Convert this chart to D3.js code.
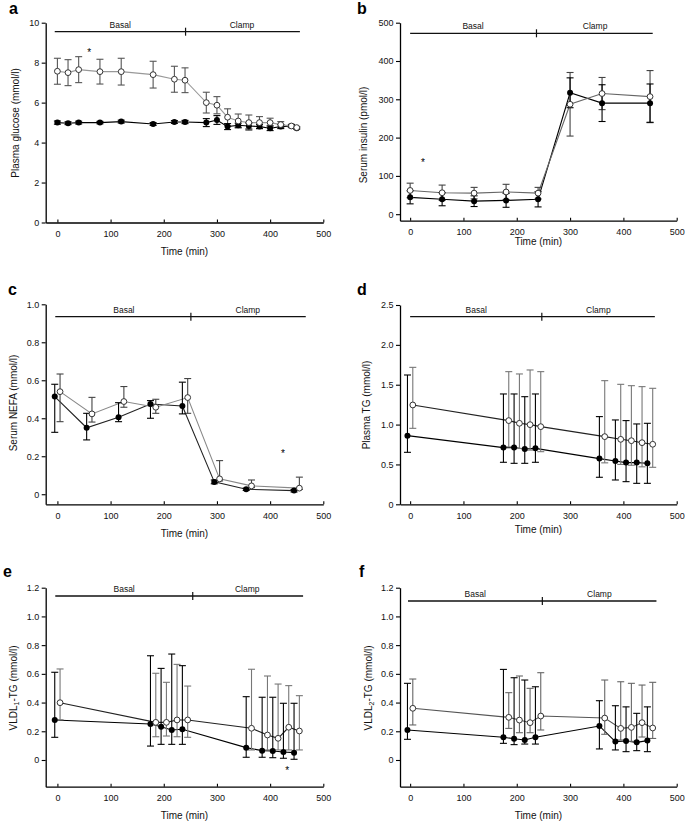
<!DOCTYPE html>
<html><head><meta charset="utf-8">
<script src="https://cdn.jsdelivr.net/npm/d3@7"></script>
<style>
body{margin:0;background:#fff}
svg{display:block}
text{font-family:"Liberation Sans",Arial,Helvetica,sans-serif;fill:#111}
</style>
</head><body>
<svg id="chart" width="685" height="821"></svg>
<script>
// ---------------- DATA ----------------
const xTicks = [0, 100, 200, 300, 400, 500];

// a: Plasma glucose (mmol/l)
const aTime = [0,20,40,80,120,180,220,240,280,300,320,340,360,380,400,420,440,450];
const aOpen = [7.57,7.5,7.65,7.55,7.55,7.4,7.17,7.12,6.0,5.87,5.27,5.08,5.0,5.0,5.0,4.9,4.83,4.75];
const aOpenErr = [0.65,0.65,0.65,0.62,0.67,0.67,0.65,0.62,0.52,0.43,0.42,0.35,0.38,0.3,0.22,0.15,0.07,0.05];
const aFilled = [5.0,4.97,5.0,5.0,5.05,4.93,5.03,5.03,5.0,5.13,4.8,4.87,4.83,4.8,4.72,4.8,4.83,4.72];
const aFilledErr = [0.08,0.07,0.07,0.06,0.07,0.07,0.07,0.08,0.2,0.22,0.15,0.1,0.15,0.1,0.12,0.1,0.08,0.05];
const aYTicks = [0,2,4,6,8,10];

// b: Serum insulin (pmol/l)
const bTime = [0,60,120,180,240,300,360,450];
const bOpen = [62,56,55,58,55,287,315,307];
const bOpenErr = [19,20,15,20,15,83,42,68];
const bFilled = [44,39,34,36,39,317,290,290];
const bFilledErr = [17,17,14,18,20,39,48,50];
const bYTicks = [0,100,200,300,400,500];

// c: Serum NEFA (mmol/l)
const cTimeFilled = [-5,55,115,175,235,295,355,445];
const cFilled = [0.514,0.35,0.405,0.475,0.465,0.065,0.026,0.019];
const cFilledLo = [0.326,0.286,0.382,0.40,0.423,0.055,0.02,0.012];
const cFilledHi = [0.579,0.426,0.482,0.493,0.59,0.075,0.032,0.025];
const cTimeOpen = [5,65,125,185,245,305,365,455];
const cOpen = [0.54,0.423,0.488,0.458,0.509,0.081,0.044,0.032];
const cOpenLo = [0.382,0.38,0.458,0.426,0.426,0.07,0.035,0.025];
const cOpenHi = [0.633,0.51,0.567,0.5,0.609,0.177,0.075,0.09];
const cYTicks = [0,0.2,0.4,0.6,0.8,1.0];

// d: Plasma TG (mmol/l)
const tgTimeFilled = [-5,175,195,215,235,355,385,405,425,445];
const tgTimeOpen = [5,185,205,225,245,365,395,415,435,455];
const dFilled = [0.861,0.711,0.711,0.694,0.702,0.573,0.543,0.523,0.523,0.514];
const dFilledLo = [0.652,0.527,0.514,0.514,0.527,0.339,0.305,0.284,0.263,0.263];
const dFilledHi = [1.622,1.384,1.384,1.35,1.384,1.1,1.058,1.05,1.008,1.016];
const dOpen = [1.246,1.05,1.016,0.999,0.974,0.849,0.815,0.798,0.773,0.753];
const dOpenLo = [0.953,0.72,0.7,0.68,0.66,0.52,0.5,0.49,0.47,0.464];
const dOpenHi = [1.718,1.664,1.635,1.685,1.664,1.551,1.505,1.488,1.476,1.455];
const dYTicks = [0,0.5,1.0,1.5,2.0,2.5];

// e: VLDL1-TG (mmol/l)
const eFilled = [0.279,0.251,0.232,0.209,0.214,0.086,0.065,0.063,0.056,0.051];
const eFilledLo = [0.158,0.097,0.109,0.109,0.109,0.019,0.019,0.016,0.012,0.005];
const eFilledHi = [0.611,0.726,0.638,0.738,0.657,0.441,0.437,0.437,0.395,0.395];
const eOpen = [0.399,0.262,0.262,0.279,0.279,0.221,0.174,0.151,0.228,0.202];
const eOpenLo = [0.28,0.162,0.167,0.162,0.158,0.07,0.07,0.07,0.07,0.07];
const eOpenHi = [0.634,0.604,0.541,0.666,0.515,0.632,0.585,0.529,0.518,0.448];
const efYTicks = [0,0.2,0.4,0.6,0.8,1.0,1.2];

// f: VLDL2-TG (mmol/l)
const fFilled = [0.209,0.158,0.148,0.139,0.158,0.237,0.128,0.132,0.123,0.135];
const fFilledLo = [0.144,0.116,0.107,0.111,0.111,0.077,0.07,0.058,0.065,0.058];
const fFilledHi = [0.534,0.631,0.573,0.557,0.51,0.413,0.378,0.37,0.325,0.37];
const fOpen = [0.36,0.297,0.278,0.26,0.306,0.292,0.22,0.227,0.26,0.223];
const fOpenLo = [0.244,0.22,0.19,0.19,0.209,0.179,0.139,0.13,0.16,0.15];
const fOpenHi = [0.564,0.469,0.585,0.499,0.608,0.557,0.545,0.534,0.522,0.541];

// ---------------- HELPERS ----------------
const sym = (t, v, e) => t.map((tt, i) => ({t: tt, v: v[i], lo: v[i] - e[i], hi: v[i] + e[i]}));
const asym = (t, v, lo, hi) => t.map((tt, i) => ({t: tt, v: v[i], lo: lo[i], hi: hi[i]}));
const fmt1 = d => d === 0 ? "0" : d3.format(".1f")(d);
const fmtInt = d => String(d);

const svg = d3.select("#chart");

function drawPanel(cfg) {
  const g = svg.append("g");
  const x = d3.scaleLinear().domain(cfg.xDomain).range(cfg.xRange);
  const y = d3.scaleLinear().domain(cfg.yDomain).range(cfg.yRange);

  // axes
  const ya = d3.axisLeft(y).tickValues(cfg.yTicks).tickFormat(cfg.yFmt)
    .tickSizeInner(4).tickSizeOuter(0).tickPadding(2.5);
  const yg = g.append("g").attr("transform", `translate(${cfg.xRange[0]},0)`).call(ya);
  const xa = d3.axisBottom(x).tickValues(xTicks).tickFormat(fmtInt)
    .tickSizeInner(-3).tickSizeOuter(0).tickPadding(8);
  const xg = g.append("g").attr("transform", `translate(0,${cfg.yRange[0]})`).call(xa);
  [yg, xg].forEach(a => {
    a.select(".domain").attr("stroke", "#000").attr("stroke-width", 1.3);
    a.selectAll(".tick line").attr("stroke", "#000").attr("stroke-width", 1.1);
    a.selectAll(".tick text").attr("font-size", 9).attr("fill", "#111")
      .attr("font-family", '"Liberation Sans",Arial,sans-serif');
  });

  // phase bar
  const p = cfg.phase;
  g.append("line").attr("x1", x(p.start)).attr("x2", x(p.end))
    .attr("y1", p.y).attr("y2", p.y).attr("stroke", "#111").attr("stroke-width", 1.3);
  g.append("line").attr("x1", x(p.mid)).attr("x2", x(p.mid))
    .attr("y1", p.y - 4).attr("y2", p.y + 4).attr("stroke", "#111").attr("stroke-width", 1.2);
  g.append("text").attr("x", x(p.basal)).attr("y", p.y - 4).attr("text-anchor", "middle")
    .attr("font-size", 8.5).text("Basal");
  g.append("text").attr("x", x(p.clamp)).attr("y", p.y - 4).attr("text-anchor", "middle")
    .attr("font-size", 8.5).text("Clamp");

  const line = d3.line().x(d => x(d.t)).y(d => y(d.v));

  // lines
  g.append("path").datum(cfg.filled).attr("d", line).attr("fill", "none")
    .attr("stroke", cfg.filledLine || "#000").attr("stroke-width", 1.1);
  g.append("path").datum(cfg.open).attr("d", line).attr("fill", "none")
    .attr("stroke", cfg.openLine).attr("stroke-width", 1.1);

  // error bars
  function errBars(data, color) {
    const eb = g.append("g").attr("stroke", color).attr("stroke-width", 1.1);
    data.forEach(d => {
      eb.append("line").attr("x1", x(d.t)).attr("x2", x(d.t)).attr("y1", y(d.lo)).attr("y2", y(d.hi));
      eb.append("line").attr("x1", x(d.t) - 3.5).attr("x2", x(d.t) + 3.5).attr("y1", y(d.lo)).attr("y2", y(d.lo));
      eb.append("line").attr("x1", x(d.t) - 3.5).attr("x2", x(d.t) + 3.5).attr("y1", y(d.hi)).attr("y2", y(d.hi));
    });
  }
  errBars(cfg.open, cfg.openErr);
  errBars(cfg.filled, cfg.filledErr || "#000");

  // markers
  g.append("g").selectAll("circle").data(cfg.filled).join("circle")
    .attr("cx", d => x(d.t)).attr("cy", d => y(d.v)).attr("r", 3).attr("fill", "#000");
  g.append("g").selectAll("circle").data(cfg.open).join("circle")
    .attr("cx", d => x(d.t)).attr("cy", d => y(d.v)).attr("r", 2.9)
    .attr("fill", "#fff").attr("stroke", "#333").attr("stroke-width", 1);

  // significance star
  if (cfg.star) {
    g.append("text").attr("x", x(cfg.star[0])).attr("y", y(cfg.star[1]) + 4)
      .attr("text-anchor", "middle").attr("font-size", 10).style("fill", "#000").text("*");
  }

  // axis titles
  g.append("text").attr("x", (cfg.xRange[0] + cfg.xRange[1]) / 2).attr("y", cfg.xTitleY)
    .attr("text-anchor", "middle").attr("font-size", 10).text("Time (min)");
  const yt = g.append("text")
    .attr("transform", `translate(${cfg.yTitleX},${cfg.yTitleY}) rotate(-90)`)
    .attr("text-anchor", "middle").attr("font-size", 10);
  cfg.yTitle.forEach(part => {
    const ts = yt.append("tspan").text(part.s);
    if (part.sub) ts.attr("font-size", 7).attr("dy", 2.5);
    if (part.after) ts.attr("dy", -2.5);
  });

  // panel letter
  svg.append("text").attr("x", cfg.letterX).attr("y", cfg.letterY)
    .attr("font-size", 16).attr("font-weight", "bold").style("fill", "#000").text(cfg.letter);
}

const L = {xDomain: [-22, 500], xRange: [45.7, 323.3]};
const R = {xDomain: [-19, 500], xRange: [400, 676.7]};

drawPanel(Object.assign({}, L, {
  letter: "a", letterX: 9, letterY: 14,
  yDomain: [0, 10], yRange: [222.5, 22.7], yTicks: aYTicks, yFmt: fmtInt,
  filled: sym(aTime, aFilled, aFilledErr), open: sym(aTime, aOpen, aOpenErr),
  openLine: "#999", openErr: "#555",
  phase: {start: -5, end: 456, mid: 241, y: 31.7, basal: 118, clamp: 347},
  star: [60, 8.55],
  xTitleY: 255, yTitleX: 18.5, yTitleY: 123,
  yTitle: [{s: "Plasma glucose (mmol/l)"}]
}));

drawPanel(Object.assign({}, R, {
  letter: "b", letterX: 357, letterY: 14,
  yDomain: [-17, 500], yRange: [220.7, 22.7], yTicks: bYTicks, yFmt: fmtInt,
  filled: sym(bTime, bFilled, bFilledErr), open: sym(bTime, bOpen, bOpenErr),
  openLine: "#666", openErr: "#444",
  phase: {start: 0, end: 455, mid: 237, y: 33.3, basal: 118, clamp: 347},
  star: [24, 135],
  xTitleY: 244.5, yTitleX: 366.5, yTitleY: 135,
  yTitle: [{s: "Serum insulin (pmol/l)"}]
}));

drawPanel(Object.assign({}, L, {
  letter: "c", letterX: 8, letterY: 295,
  yDomain: [-0.053, 1.0], yRange: [504.3, 304.3], yTicks: cYTicks, yFmt: fmt1,
  filled: asym(cTimeFilled, cFilled, cFilledLo, cFilledHi),
  open: asym(cTimeOpen, cOpen, cOpenLo, cOpenHi),
  filledLine: "#222", openLine: "#888", openErr: "#444",
  phase: {start: -4, end: 467, mid: 251, y: 316.7, basal: 125, clamp: 358},
  star: [424, 0.219],
  xTitleY: 537, yTitleX: 16.8, yTitleY: 403,
  yTitle: [{s: "Serum NEFA (mmol/l)"}]
}));

drawPanel(Object.assign({}, R, {
  letter: "d", letterX: 357, letterY: 295,
  yDomain: [0, 2.5], yRange: [504.3, 305], yTicks: dYTicks, yFmt: fmt1,
  filled: asym(tgTimeFilled, dFilled, dFilledLo, dFilledHi),
  open: asym(tgTimeOpen, dOpen, dOpenLo, dOpenHi),
  openLine: "#222", openErr: "#777",
  phase: {start: 0, end: 459, mid: 247, y: 316.7, basal: 124, clamp: 353},
  xTitleY: 533, yTitleX: 370, yTitleY: 405,
  yTitle: [{s: "Plasma TG (mmol/l)"}]
}));

drawPanel(Object.assign({}, L, {
  letter: "e", letterX: 3, letterY: 577,
  yDomain: [-0.186, 1.2], yRange: [786.7, 587.7], yTicks: efYTicks, yFmt: fmt1,
  filled: asym(tgTimeFilled, eFilled, eFilledLo, eFilledHi),
  open: asym(tgTimeOpen, eOpen, eOpenLo, eOpenHi),
  openLine: "#222", openErr: "#777",
  phase: {start: -4, end: 462, mid: 254.5, y: 596, basal: 125.5, clamp: 357},
  star: [432, -0.07],
  xTitleY: 818.5, yTitleX: 16.8, yTitleY: 688,
  yTitle: [{s: "VLDL"}, {s: "1", sub: true}, {s: "-TG (mmol/l)", after: true}]
}));

drawPanel(Object.assign({}, R, {
  letter: "f", letterX: 359, letterY: 577,
  yDomain: [-0.186, 1.2], yRange: [786.7, 587.7], yTicks: efYTicks, yFmt: fmt1,
  filled: asym(tgTimeFilled, fFilled, fFilledLo, fFilledHi),
  open: asym(tgTimeOpen, fOpen, fOpenLo, fOpenHi),
  openLine: "#555", openErr: "#666",
  phase: {start: -4, end: 462, mid: 248, y: 601, basal: 122, clamp: 355},
  xTitleY: 818.5, yTitleX: 371.8, yTitleY: 688,
  yTitle: [{s: "VLDL"}, {s: "2", sub: true}, {s: "-TG (mmol/l)", after: true}]
}));
</script>
</body></html>
